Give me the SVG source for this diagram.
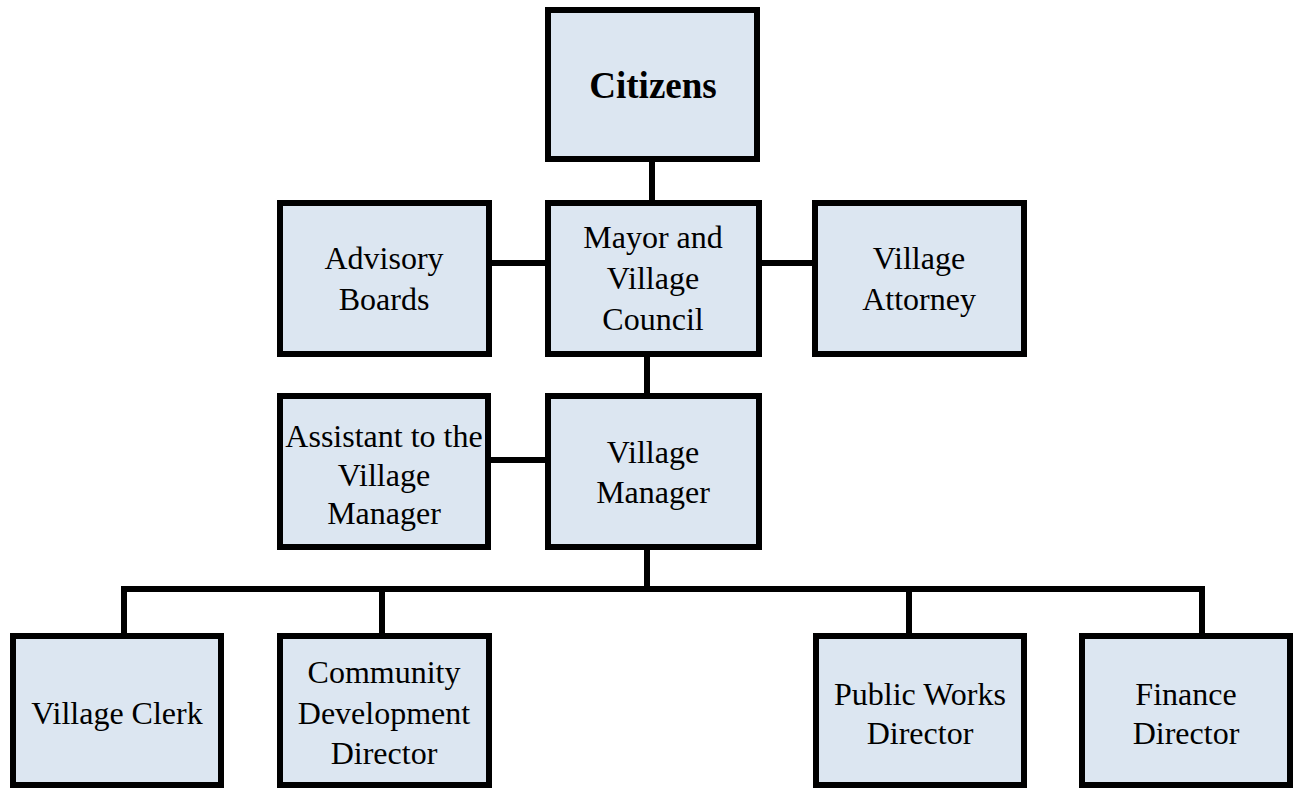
<svg xmlns="http://www.w3.org/2000/svg" width="1296" height="789" viewBox="0 0 1296 789">
<style>
.box{fill:#DCE6F1;stroke:#000;stroke-width:6}
.t{font-family:"Liberation Serif","Times New Roman",serif;font-size:32px;fill:#000;text-anchor:middle}
.b{font-weight:bold;font-size:37px}
.c{stroke:#000;stroke-width:6;fill:none}
</style>
<rect width="1296" height="789" fill="#fff"/>
<g id="connectors">
<line class="c" x1="652" y1="159" x2="652" y2="203"/>
<line class="c" x1="489" y1="263" x2="548" y2="263"/>
<line class="c" x1="759" y1="263" x2="815" y2="263"/>
<line class="c" x1="647" y1="354" x2="647" y2="396"/>
<line class="c" x1="488" y1="460" x2="548" y2="460"/>
<line class="c" x1="647" y1="547" x2="647" y2="589"/>
<polyline class="c" points="124,636 124,589 1202,589 1202,636"/>
<line class="c" x1="382" y1="589" x2="382" y2="636"/>
<line class="c" x1="909" y1="589" x2="909" y2="636"/>
</g>
<g id="citizens">
<rect class="box" x="548" y="10" width="209" height="149"/>
<text class="t b" x="653" y="98">Citizens</text>
</g>
<g id="advisory">
<rect class="box" x="280" y="203" width="209" height="151"/>
<text class="t" x="384" y="269">Advisory</text>
<text class="t" x="384" y="310">Boards</text>
</g>
<g id="mayor">
<rect class="box" x="548" y="203" width="211" height="151"/>
<text class="t" x="653" y="248">Mayor and</text>
<text class="t" x="653" y="289">Village</text>
<text class="t" x="653" y="330">Council</text>
</g>
<g id="attorney">
<rect class="box" x="815" y="203" width="209" height="151"/>
<text class="t" x="919" y="269">Village</text>
<text class="t" x="919" y="310">Attorney</text>
</g>
<g id="assistant">
<rect class="box" x="280" y="396" width="208" height="151"/>
<text class="t" x="384" y="447">Assistant to the</text>
<text class="t" x="384" y="486">Village</text>
<text class="t" x="384" y="524">Manager</text>
</g>
<g id="manager">
<rect class="box" x="548" y="396" width="211" height="151"/>
<text class="t" x="653" y="463">Village</text>
<text class="t" x="653" y="503">Manager</text>
</g>
<g id="clerk">
<rect class="box" x="13" y="636" width="208" height="149"/>
<text class="t" x="117" y="724">Village Clerk</text>
</g>
<g id="community">
<rect class="box" x="280" y="636" width="209" height="149"/>
<text class="t" x="384" y="683">Community</text>
<text class="t" x="384" y="724">Development</text>
<text class="t" x="384" y="764">Director</text>
</g>
<g id="publicworks">
<rect class="box" x="816" y="636" width="208" height="149"/>
<text class="t" x="920" y="705">Public Works</text>
<text class="t" x="920" y="744">Director</text>
</g>
<g id="finance">
<rect class="box" x="1082" y="636" width="208" height="149"/>
<text class="t" x="1186" y="705">Finance</text>
<text class="t" x="1186" y="744">Director</text>
</g>
</svg>
